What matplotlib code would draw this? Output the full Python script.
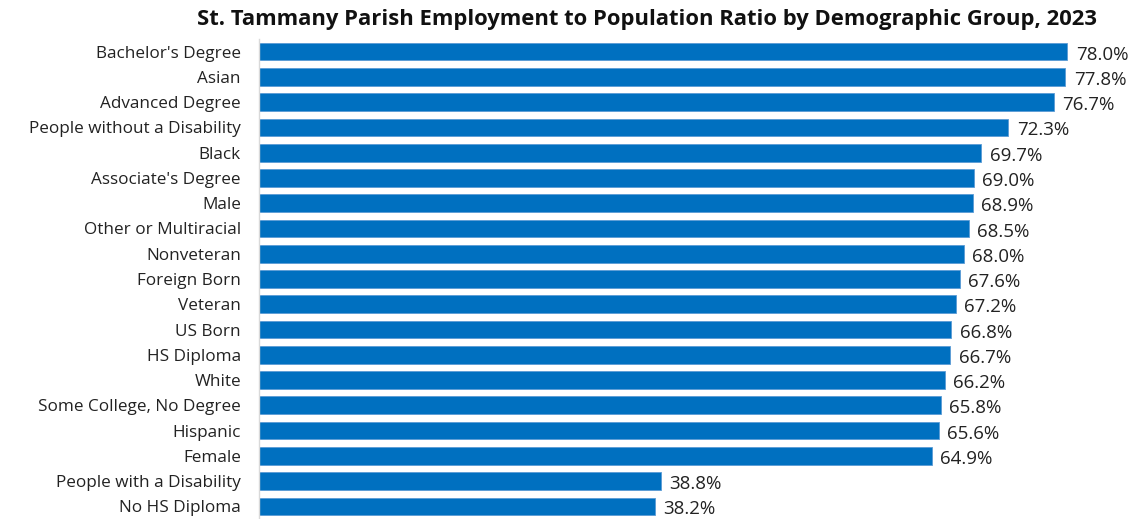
import matplotlib
matplotlib.use("Agg")
import matplotlib.pyplot as plt

categories = ["Bachelor's Degree", "Asian", "Advanced Degree", "People without a Disability",
              "Black", "Associate's Degree", "Male", "Other or Multiracial", "Nonveteran",
              "Foreign Born", "Veteran", "US Born", "HS Diploma", "White",
              "Some College, No Degree", "Hispanic", "Female", "People with a Disability",
              "No HS Diploma"]
values = [78.0, 77.8, 76.7, 72.3, 69.7, 69.0, 68.9, 68.5, 68.0, 67.6, 67.2, 66.8, 66.7,
          66.2, 65.8, 65.6, 64.9, 38.8, 38.2]
title = "St. Tammany Parish Employment to Population Ratio by Demographic Group, 2023"

plt.rcParams['font.family'] = ['Open Sans', 'DejaVu Sans']
W, H = 1144, 519
fig = plt.figure(figsize=(W/100, H/100), dpi=100)
left = 259/W
ax = fig.add_axes([left, 0.0, 1140/W - left, (519-39)/H])
y = list(range(len(categories)))
ax.barh(y, values, height=0.7, color='#0070C0', edgecolor='#5B9BD5', linewidth=0.6)
ax.set_ylim(len(categories)-0.5, -0.5)
ax.set_xlim(0, 85)
ax.set_yticks(y)
ax.set_yticklabels(categories, fontsize=12.3, color='#222222')
ax.tick_params(axis='y', length=0, pad=13)
ax.set_xticks([])
for s in ['top', 'right', 'bottom']:
    ax.spines[s].set_visible(False)
ax.spines['left'].set_color('#D9D9D9')
ax.spines['left'].set_linewidth(1.0)
for yi, v in zip(y, values):
    ax.text(v + 0.8, yi + 0.12, f"{v:.1f}%", va='center', ha='left', fontsize=13.5, color='#222222')
fig.text(647/W, 1 - 20/H, title, ha='center', va='center', fontsize=15.8, fontweight='bold', color='#111111')
fig.savefig("out.png", dpi=100)
